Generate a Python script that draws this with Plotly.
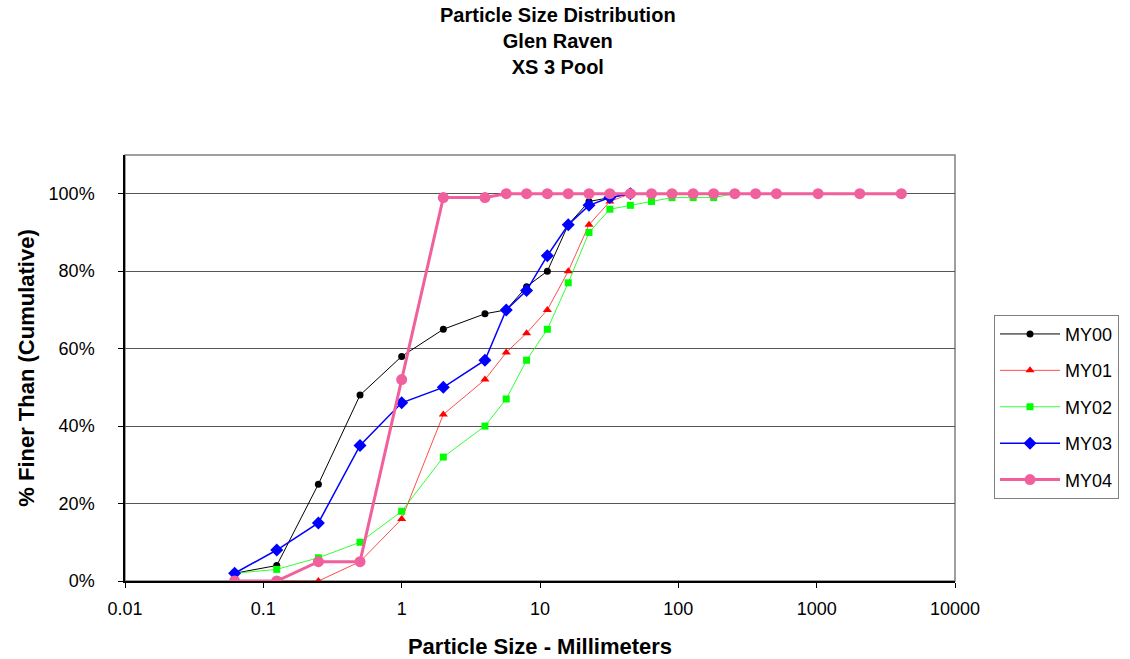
import plotly.graph_objects as go

# sieve sizes (mm)
sizes = [0.062, 0.125, 0.25, 0.5, 1, 2, 4, 5.7, 8, 11.3, 16, 22.6, 32, 45,
         64, 90, 128, 180, 256, 362, 512, 1024, 2048, 4096]

# cumulative % finer for each year
my00 = [2, 4, 25, 48, 58, 65, 69, 70, 76, 80, 92, 98, 99, 100]
my01 = [0, 0, 0, 5, 16, 43, 52, 59, 64, 70, 80, 92, 98, 100]
my02 = [2, 3, 6, 10, 18, 32, 40, 47, 57, 65, 77, 90, 96, 97, 98, 99, 99, 99, 100]
my03 = [2, 8, 15, 35, 46, 50, 57, 70, 75, 84, 92, 97, 99, 100]
my04 = [0, 0, 5, 5, 52, 99, 99, 100, 100, 100, 100, 100, 100, 100,
        100, 100, 100, 100, 100, 100, 100, 100, 100, 100]

xticks = [0.01, 0.1, 1, 10, 100, 1000, 10000]
yticks = [0, 20, 40, 60, 80, 100]

series = [
    ("MY00", my00, "black", 1, "circle", 7),
    ("MY01", my01, "#FF0000", 0.7, "triangle-up", 8),
    ("MY02", my02, "#00FF00", 0.8, "square", 7),
    ("MY03", my03, "#0000FF", 1.5, "diamond", 10),
    ("MY04", my04, "#F0609C", 3, "circle", 11),
]

fig = go.Figure()
for name, vals, col, lw, sym, ms in series:
    fig.add_trace(go.Scatter(
        x=sizes[:len(vals)], y=vals, name=name, mode="lines+markers",
        legendgroup=name,
        line=dict(color=col, width=lw),
        marker=dict(symbol=sym, size=ms, color=col, line=dict(width=0)),
    ))

font = "Liberation Sans, Arial, sans-serif"

fig.update_layout(
    width=1130, height=659,
    margin=dict(l=125, r=175, t=155, b=78, autoexpand=False),
    paper_bgcolor="white", plot_bgcolor="white",
    font=dict(family=font, size=18, color="black"),
    xaxis=dict(type="log", range=[-2, 4], tickvals=xticks,
               ticktext=[str(v) for v in xticks],
               showgrid=False, zeroline=False,
               showline=True, linecolor="black", linewidth=1.5,
               ticks="outside", ticklen=5, tickcolor="black",
               ticklabelstandoff=6,
               title=dict(text="<b>Particle Size - Millimeters</b>", standoff=20)),
    yaxis=dict(range=[0, 110], tickvals=yticks,
               ticktext=[f"{v}%" for v in yticks],
               showgrid=True, gridcolor="#555555", gridwidth=1,
               zeroline=False, showline=True, linecolor="black", linewidth=1.5,
               ticks="outside", ticklen=5, tickcolor="black",
               ticklabelstandoff=20,
               title=dict(text="<b>% Finer Than (Cumulative)</b>", standoff=8)),
    legend=dict(x=1.047, y=0.625, xanchor="left", yanchor="top",
                bordercolor="#808080", borderwidth=1,
                font=dict(size=18), tracegroupgap=10,
                itemwidth=60),
    showlegend=True,
)

# title as a centred three-line annotation above the plot
fig.add_annotation(text="<b>Particle Size Distribution<br>Glen Raven<br>XS 3 Pool</b>",
                   xref="paper", yref="paper", x=0.522, y=1.36,
                   xanchor="center", yanchor="top", showarrow=False,
                   font=dict(size=20))

# gray plot-area frame (top and right)
fig.add_shape(type="rect", xref="paper", yref="paper", x0=0, y0=0, x1=1, y1=1,
              line=dict(color="#808080", width=1.5), layer="below")

fig.write_html("out.html", config={"displayModeBar": False},
               post_script="document.body.style.margin='0';")
